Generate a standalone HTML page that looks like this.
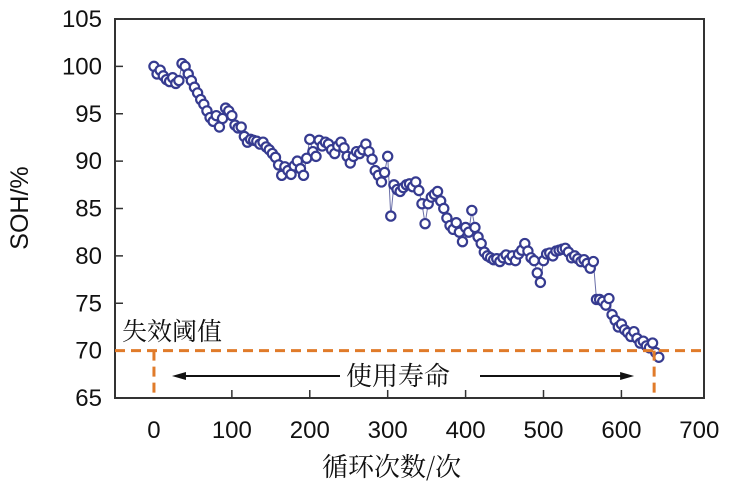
<!DOCTYPE html>
<html><head><meta charset="utf-8"><style>
html,body{margin:0;padding:0;background:#fff;}
svg{display:block;font-family:"Liberation Sans","Noto Sans CJK SC",sans-serif;}
</style></head><body>
<svg id="chart" width="737" height="489" xmlns="http://www.w3.org/2000/svg">
</svg>
<script>
const cycleStart = 0, cycleStep = 4;
const sohValues = [
100,99.2,99.6,99,98.6,98.4,98.8,98.2,98.5,100.3,
100,99.2,98.5,97.8,97.2,96.5,96,95.3,94.6,94.2,
94.8,93.6,94.5,95.6,95.3,94.8,93.8,93.5,93.6,92.6,
92,92.3,92.2,92.1,91.8,92,91.5,91.2,90.8,90.4,
89.6,88.5,89.4,89,88.6,89.5,90,89.2,88.5,90.3,
92.3,91,90.5,92.2,91.6,92,91.8,91.2,90.8,91.6,
92,91.4,90.5,89.8,90.5,91,90.8,91.2,91.8,91,
90.2,89,88.5,87.8,88.8,90.5,84.2,87.5,87,86.8,
87.2,87.5,87.6,87.3,87.8,86.9,85.5,83.4,85.5,86.2,
86.5,86.8,85.8,85,84,83.2,82.8,83.5,82.5,81.5,
83,82.5,84.8,83,82,81.3,80.4,80,79.8,79.6,
79.7,79.4,79.8,80.1,79.6,80,79.5,80.2,80.6,81.3,
80.5,79.8,79.5,78.2,77.2,79.5,80.2,80.3,80,80.5,
80.6,80.7,80.8,80.4,79.8,80,79.7,79.4,79.6,79.2,
78.7,79.4,75.4,75.4,75.2,74.8,75.5,73.8,73.2,72.5,
72.8,72.2,71.9,71.5,72,71.3,70.8,71,70.5,70.3,
70.8,69.8,69.3];
const xTicks = [0,100,200,300,400,500,600,700];
const yTicks = [65,70,75,80,85,90,95,100,105];
const threshold = 70;
const eolCycle = 642;

const L=115,T=19,R=704,B=398, XMIN=-50, XMAX=706, YMIN=65, YMAX=105;
const sx=v=>L+(v-XMIN)/(XMAX-XMIN)*(R-L);
const sy=v=>B-(v-YMIN)/(YMAX-YMIN)*(B-T);
const svg=document.getElementById('chart');
const NS='http://www.w3.org/2000/svg';
function mk(tag,attrs,parent){const e=document.createElementNS(NS,tag);for(const k in attrs)e.setAttribute(k,attrs[k]);(parent||svg).appendChild(e);return e;}

let f=mk('rect',{x:L,y:T,width:R-L,height:B-T,fill:'none',stroke:'#333',"stroke-width":2});



yTicks.forEach(v=>{
  const t=mk('line',{x1:L,x2:L+8,y1:sy(v),y2:sy(v),stroke:'#333',"stroke-width":1.5});
  
  
  const lb=mk('text',{x:L-13,y:sy(v)+8,"text-anchor":"end","font-size":24,fill:'#111'});
  lb.textContent=v;
  
  
});
xTicks.forEach(v=>{
  if(v>0&&v<700){
    const t=mk('line',{x1:sx(v),x2:sx(v),y1:B,y2:B-8,stroke:'#333',"stroke-width":1.5});
    
    
  }
  const lb=mk('text',{x:sx(v),y:438,"text-anchor":"middle","font-size":24,fill:'#111'});
  lb.textContent=v;
  
  
});

const pts=sohValues.map((v,i)=>sx(cycleStart+i*cycleStep)+','+sy(v)).join(' ');
const pl=mk('polyline',{points:pts,fill:'none',stroke:'#6a6fa8',"stroke-width":1});



sohValues.forEach((v,i)=>{
  const c=mk('circle',{cx:sx(cycleStart+i*cycleStep),cy:sy(v),r:4.6,fill:'#fff',stroke:'#363b90',"stroke-width":2.2});
  
  
});

const th=mk('line',{x1:L,x2:R,y1:sy(threshold),y2:sy(threshold),stroke:'#e07b2a',"stroke-width":3,"stroke-dasharray":"10,6"});


const v0=mk('line',{x1:sx(0),x2:sx(0),y1:sy(threshold),y2:B,stroke:'#e07b2a',"stroke-width":3,"stroke-dasharray":"10,6"});


const v1=mk('line',{x1:sx(eolCycle),x2:sx(eolCycle),y1:sy(threshold),y2:B,stroke:'#e07b2a',"stroke-width":3,"stroke-dasharray":"10,6"});



const ay=376;
const a1=mk('line',{x1:sx(0)+24,x2:340,y1:ay,y2:ay,stroke:'#111',"stroke-width":2});


const h1=mk('polygon',{points:`${sx(0)+18},${ay} ${sx(0)+32},${ay-4} ${sx(0)+32},${ay+4}`,fill:'#111'});


const a2=mk('line',{x1:480,x2:sx(eolCycle)-26,y1:ay,y2:ay,stroke:'#111',"stroke-width":2});


const h2=mk('polygon',{points:`${sx(eolCycle)-20},${ay} ${sx(eolCycle)-34},${ay-4} ${sx(eolCycle)-34},${ay+4}`,fill:'#111'});


</script>
<div style="position:absolute;left:0;top:0;width:737px;height:489px;pointer-events:none;font-family:'Liberation Sans','Noto Sans CJK SC',sans-serif;">
  <div style="position:absolute;left:346px;top:358px;font-size:26px;color:#111;font-family:'Noto Serif CJK SC','Noto Sans CJK SC',serif;line-height:34px;">使用寿命</div>
  <div style="position:absolute;left:122px;top:313px;font-size:25px;color:#111;font-family:'Noto Serif CJK SC','Noto Sans CJK SC',serif;line-height:34px;">失效阈值</div>
  <div style="position:absolute;left:322px;top:448px;font-size:26px;color:#111;font-family:'Noto Serif CJK SC','Noto Sans CJK SC',serif;line-height:36px;">循环次数/次</div>
  <div style="position:absolute;left:-25px;top:193px;width:90px;text-align:center;font-size:25px;color:#111;line-height:30px;transform:rotate(-90deg);">SOH/%</div>
</div>
</body></html>
